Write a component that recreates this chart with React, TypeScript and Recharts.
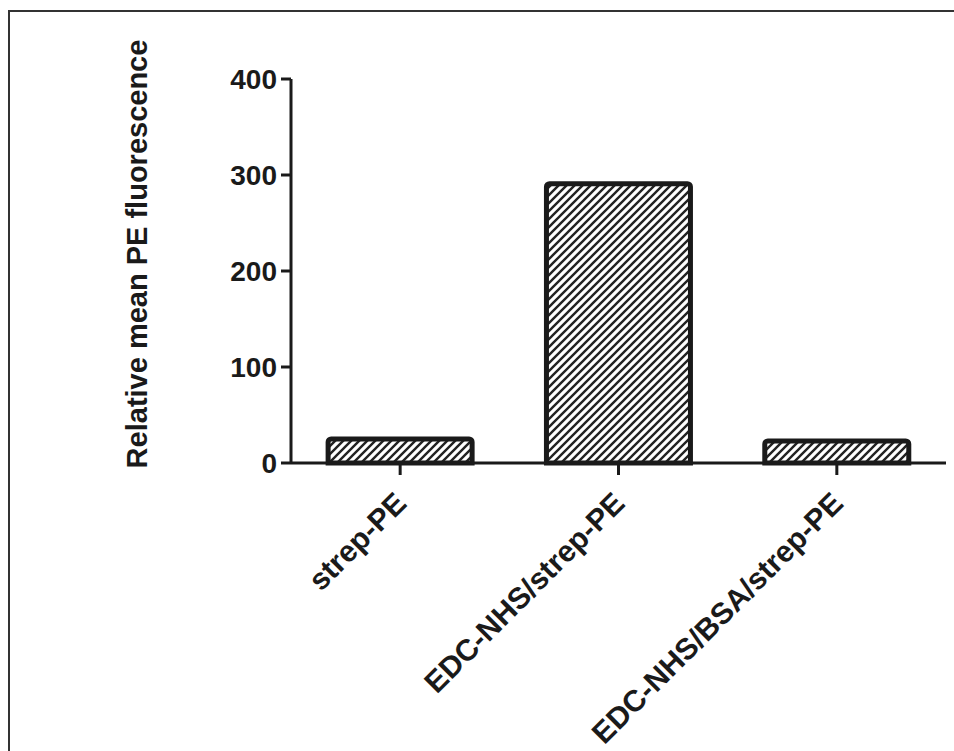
import React from 'react';
import { BarChart, Bar, XAxis, YAxis, Label } from 'recharts';

const categories = ['strep-PE', 'EDC-NHS/strep-PE', 'EDC-NHS/BSA/strep-PE'];
const fluorescence = [25, 291, 23];
const yTicks = [0, 100, 200, 300, 400];
const yTitle = 'Relative mean PE fluorescence';

const data = categories.map((c, i) => ({ name: c, value: fluorescence[i] }));

const FONT = '"Liberation Sans", Arial, Helvetica, sans-serif';
const INK = '#1a1a1a';

const XTick = (props: any) => {
  const { x, y, payload } = props;
  return (
    <g transform={`translate(${x + 8},${y + 30})`}>
      <text
        textAnchor="end"
        transform="rotate(-45)"
        fontSize={30}
        fontWeight="bold"
        fontFamily={FONT}
        fill={INK}
      >
        {payload.value}
      </text>
    </g>
  );
};

export default function App() {
  return (
    <div style={{ position: 'absolute', left: 0, top: 0, width: 954, height: 751, background: '#fff', overflow: 'hidden' }}>
      <div
        style={{
          position: 'absolute',
          left: 8,
          top: 10,
          width: 960,
          height: 760,
          borderTop: '2px solid #333',
          borderLeft: '2px solid #333',
        }}
      />
      <div style={{ position: 'absolute', left: 0, top: 0 }}>
        <BarChart
          width={954}
          height={751}
          data={data}
          margin={{ top: 79, right: 8, bottom: 88, left: 211 }}
          barCategoryGap="17%"
        >
          <defs>
            <pattern id="hatch" patternUnits="userSpaceOnUse" width={8} height={8}>
              <rect x={0} y={0} width={8} height={8} fill="#fff" />
              <path d="M-2,2 L2,-2 M0,8 L8,0 M6,10 L10,6" stroke="#222" strokeWidth={2.4} />
            </pattern>
          </defs>
          <XAxis
            dataKey="name"
            height={200}
            axisLine={{ stroke: INK, strokeWidth: 3 }}
            tickLine={{ stroke: INK, strokeWidth: 3 }}
            tickSize={12}
            tickMargin={0}
            interval={0}
            tick={<XTick />}
          />
          <YAxis
            width={80}
            domain={[0, 400]}
            ticks={yTicks}
            interval={0}
            axisLine={{ stroke: INK, strokeWidth: 3 }}
            tickLine={{ stroke: INK, strokeWidth: 3 }}
            tickSize={10}
            tickMargin={4}
            tick={{ fontSize: 28, fontWeight: 'bold', fill: INK, fontFamily: FONT }}
          >
            <Label
              content={() => (
                <text
                  x={147}
                  y={254}
                  transform="rotate(-90 147 254)"
                  textAnchor="middle"
                  fontSize={29}
                  fontWeight="bold"
                  fontFamily={FONT}
                  fill={INK}
                >
                  {yTitle}
                </text>
              )}
            />
          </YAxis>
          <Bar
            dataKey="value"
            fill="url(#hatch)"
            stroke={INK}
            strokeWidth={5}
            radius={[3, 3, 0, 0]}
            isAnimationActive={false}
          />
        </BarChart>
      </div>
    </div>
  );
}
